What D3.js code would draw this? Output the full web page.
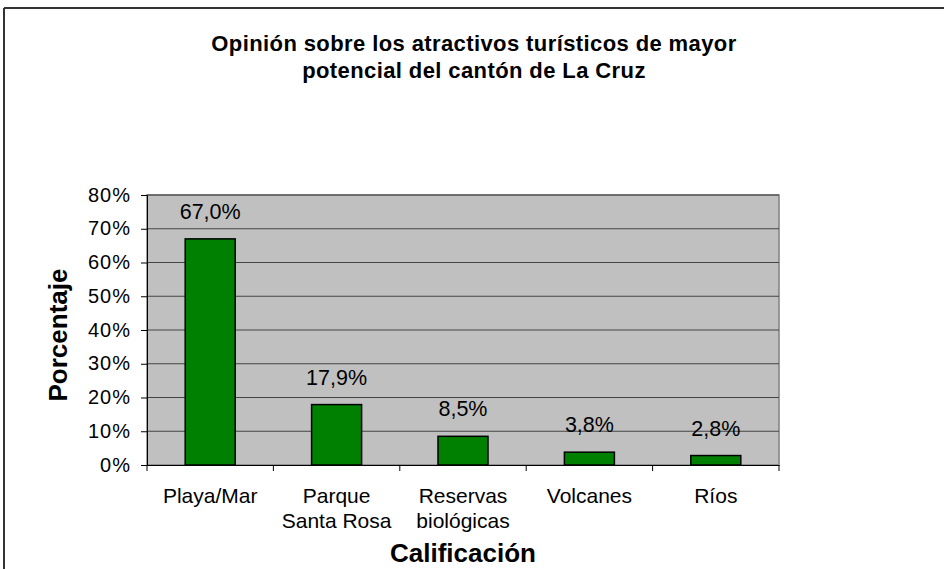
<!DOCTYPE html>
<html><head><meta charset="utf-8">
<script src="https://cdn.jsdelivr.net/npm/d3@7"></script>
<style>body{margin:0;background:#fff}svg{display:block}text{font-family:"Liberation Sans",Arial,sans-serif;fill:#000}</style>
</head><body><svg id="c" width="944" height="569"></svg>
<script>
const categories = [["Playa/Mar"],["Parque","Santa Rosa"],["Reservas","biológicas"],["Volcanes"],["Ríos"]];
const values = [67.0, 17.9, 8.5, 3.8, 2.8];
const valueLabels = ["67,0%","17,9%","8,5%","3,8%","2,8%"];
const yTicks = [0,10,20,30,40,50,60,70,80];
const titleLines = ["Opinión sobre los atractivos turísticos de mayor","potencial del cantón de La Cruz"];

const svg = d3.select("#c");
const m = {l:147, r:779, t:195, b:465};
// outer frame (top and left visible)
svg.append("line").attr("x1",4).attr("x2",944).attr("y1",8).attr("y2",8).attr("stroke","#333").attr("stroke-width",2);
svg.append("line").attr("x1",4).attr("x2",4).attr("y1",8).attr("y2",569).attr("stroke","#333").attr("stroke-width",2);

const x = d3.scaleBand().domain(d3.range(categories.length)).range([m.l,m.r]);
const y = d3.scaleLinear().domain([0,80]).range([m.b,m.t]);

svg.append("rect").attr("x",m.l).attr("y",m.t).attr("width",m.r-m.l).attr("height",m.b-m.t).attr("fill","#C0C0C0").attr("stroke","#808080").attr("stroke-width",1.5);
svg.append("g").selectAll("line").data(yTicks.filter(d=>d>0)).join("line")
  .attr("x1",m.l).attr("x2",m.r).attr("y1",d=>y(d)).attr("y2",d=>y(d)).attr("stroke","#444").attr("stroke-width",1.2);

const yAxis = svg.append("g").attr("transform",`translate(${m.l},0)`)
  .call(d3.axisLeft(y).tickValues(yTicks).tickFormat(d=>d+"%").tickSize(6).tickPadding(10));
yAxis.select(".domain").attr("stroke","#000");
yAxis.selectAll("line").attr("stroke","#000");
yAxis.selectAll("text").style("font-size","20px").style("letter-spacing","1px").attr("dy","0.3em").attr("fill","#000");

const xAxis = svg.append("g").attr("transform",`translate(0,${m.b})`)
  .call(d3.axisBottom(x).tickValues([]).tickSizeOuter(0));
xAxis.select(".domain").attr("stroke","#000");
svg.append("g").selectAll("line").data(d3.range(categories.length+1)).join("line")
  .attr("x1",i=>m.l+i*x.step()).attr("x2",i=>m.l+i*x.step()).attr("y1",m.b).attr("y2",m.b+6).attr("stroke","#000");

const bw = 50;
svg.append("g").selectAll("rect").data(values).join("rect")
  .attr("x",(d,i)=>x(i)+x.bandwidth()/2-bw/2).attr("width",bw)
  .attr("y",d=>y(d)).attr("height",d=>y(0)-y(d))
  .attr("fill","#008000").attr("stroke","#000").attr("stroke-width",1.5);

svg.append("g").selectAll("text").data(values).join("text")
  .attr("x",(d,i)=>x(i)+x.bandwidth()/2).attr("y",d=>y(d)-20)
  .attr("text-anchor","middle").style("font-size","21.5px").text((d,i)=>valueLabels[i]);

const cl = svg.append("g").selectAll("text").data(categories).join("text")
  .attr("x",(d,i)=>x(i)+x.bandwidth()/2).attr("y",503).attr("text-anchor","middle").style("font-size","21px");
cl.selectAll("tspan").data(d=>d).join("tspan").attr("x",function(){return this.parentNode.getAttribute("x");})
  .attr("dy",(d,i)=>i?25:0).text(d=>d);

svg.append("text").attr("x",463).attr("y",562).attr("text-anchor","middle").style("font-size","26px").style("font-weight","bold").text("Calificación");
svg.append("text").attr("transform","translate(67,335) rotate(-90)").attr("text-anchor","middle").style("font-size","26px").style("font-weight","bold").text("Porcentaje");

svg.append("g").selectAll("text").data(titleLines).join("text")
  .attr("x",474).attr("y",(d,i)=>51+i*27).attr("text-anchor","middle").style("font-size","22px").style("letter-spacing","0.4px").style("font-weight","bold").text(d=>d);
</script></body></html>
